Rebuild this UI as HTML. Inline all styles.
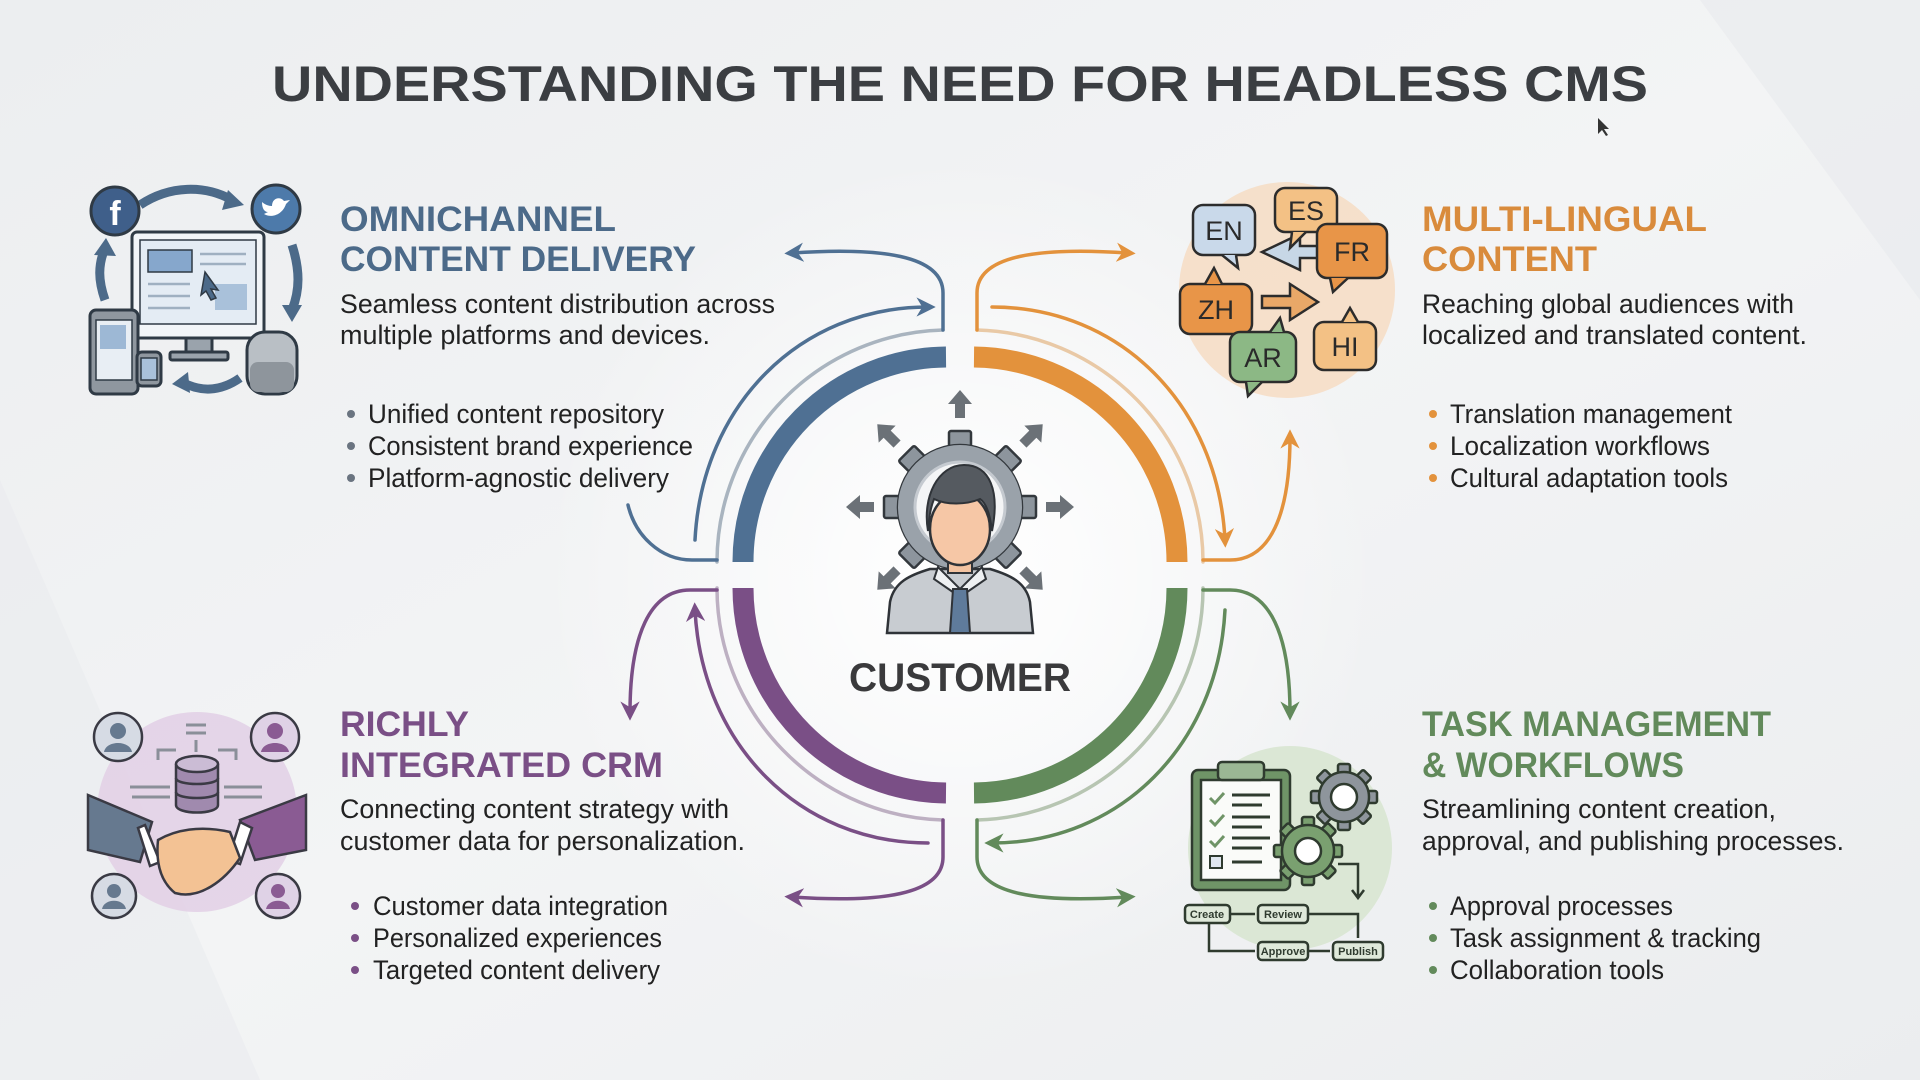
<!DOCTYPE html>
<html><head><meta charset="utf-8"><style>
html,body{margin:0;padding:0;width:1920px;height:1080px;overflow:hidden;background:#eef0f2}
svg{display:block}
text{font-family:"Liberation Sans",sans-serif}
</style></head><body>
<svg width="1920" height="1080" viewBox="0 0 1920 1080" xmlns="http://www.w3.org/2000/svg">
<defs>
<linearGradient id="bg" x1="0" y1="0" x2="1" y2="1"><stop offset="0" stop-color="#eceef0"/><stop offset="0.5" stop-color="#f3f4f5"/><stop offset="1" stop-color="#ebedef"/></linearGradient>
<radialGradient id="glow" cx="0.5" cy="0.5" r="0.5"><stop offset="0" stop-color="#ffffff"/><stop offset="1" stop-color="#ffffff" stop-opacity="0"/></radialGradient>
<marker id="mb" viewBox="0 0 10 10" refX="6" refY="5" markerWidth="5.5" markerHeight="5.5" orient="auto-start-reverse"><path d="M0,0 L10,5 L0,10 L3,5z" fill="#4f7093"/></marker>
<marker id="mo" viewBox="0 0 10 10" refX="6" refY="5" markerWidth="5.5" markerHeight="5.5" orient="auto-start-reverse"><path d="M0,0 L10,5 L0,10 L3,5z" fill="#e3923c"/></marker>
<marker id="mp" viewBox="0 0 10 10" refX="6" refY="5" markerWidth="5.5" markerHeight="5.5" orient="auto-start-reverse"><path d="M0,0 L10,5 L0,10 L3,5z" fill="#7a4f86"/></marker>
<marker id="mg" viewBox="0 0 10 10" refX="6" refY="5" markerWidth="5.5" markerHeight="5.5" orient="auto-start-reverse"><path d="M0,0 L10,5 L0,10 L3,5z" fill="#628a5b"/></marker>
</defs>
<rect width="1920" height="1080" fill="url(#bg)"/>
<polygon points="1700,0 1920,0 1920,300" fill="#e8eaed" opacity="0.6"/>
<polygon points="0,480 260,1080 0,1080" fill="#e9ebee" opacity="0.6"/>
<ellipse cx="960" cy="575" rx="420" ry="420" fill="url(#glow)"/>

<text x="960" y="101" text-anchor="middle" font-size="50" font-weight="bold" fill="#3b3e42" textLength="1376" lengthAdjust="spacingAndGlyphs">UNDERSTANDING THE NEED FOR HEADLESS CMS</text>
<path d="M1598,118 l0,16 l4,-4 l4,6 l2,-1 l-4,-6 l5,0z" fill="#333"/>

<g transform="translate(960,575)" fill="none" stroke-linecap="round">
 <g>
  <path d="M -217 -13 A 205 205 0 0 1 -14 -218" stroke="#4f7093" stroke-width="21" stroke-linecap="butt"/>
  <path d="M -243 -13 A 232 232 0 0 1 -17 -245" stroke="#a9b4bf" stroke-width="3.5"/>
  <path d="M -17 -245 L -17 -282 C -17 -320 -80 -328 -168 -322" stroke="#4f7093" stroke-width="3.5" marker-end="url(#mb)"/>
  <path d="M -265 -35 C -258 -170 -160 -268 -32 -268" stroke="#4f7093" stroke-width="3.5" marker-end="url(#mb)"/>
  <path d="M -243 -15 L -268 -15 C -300 -15 -325 -40 -332 -70" stroke="#4f7093" stroke-width="3.5"/>
 </g>
 <g transform="scale(-1,1)">
  <path d="M -217 -13 A 205 205 0 0 1 -14 -218" stroke="#e3923c" stroke-width="21" stroke-linecap="butt"/>
  <path d="M -243 -13 A 232 232 0 0 1 -17 -245" stroke="#e9c9a6" stroke-width="3.5"/>
  <path d="M -17 -245 L -17 -282 C -17 -320 -80 -328 -168 -322" stroke="#e3923c" stroke-width="3.5" marker-end="url(#mo)"/>
  <path d="M -265 -35 C -258 -170 -160 -268 -32 -268" stroke="#e3923c" stroke-width="3.5" marker-start="url(#mo)"/>
  <path d="M -243 -15 L -270 -15 C -310 -15 -330 -60 -330 -138" stroke="#e3923c" stroke-width="3.5" marker-end="url(#mo)"/>
 </g>
 <g transform="scale(1,-1)">
  <path d="M -217 -13 A 205 205 0 0 1 -14 -218" stroke="#7a4f86" stroke-width="21" stroke-linecap="butt"/>
  <path d="M -243 -13 A 232 232 0 0 1 -17 -245" stroke="#bdb0c2" stroke-width="3.5"/>
  <path d="M -17 -245 L -17 -282 C -17 -320 -80 -328 -168 -322" stroke="#7a4f86" stroke-width="3.5" marker-end="url(#mp)"/>
  <path d="M -265 -35 C -258 -170 -160 -268 -32 -268" stroke="#7a4f86" stroke-width="3.5" marker-start="url(#mp)"/>
  <path d="M -243 -15 L -270 -15 C -310 -15 -330 -60 -330 -138" stroke="#7a4f86" stroke-width="3.5" marker-end="url(#mp)"/>
 </g>
 <g transform="scale(-1,-1)">
  <path d="M -217 -13 A 205 205 0 0 1 -14 -218" stroke="#628a5b" stroke-width="21" stroke-linecap="butt"/>
  <path d="M -243 -13 A 232 232 0 0 1 -17 -245" stroke="#b7c5b2" stroke-width="3.5"/>
  <path d="M -17 -245 L -17 -282 C -17 -320 -80 -328 -168 -322" stroke="#628a5b" stroke-width="3.5" marker-end="url(#mg)"/>
  <path d="M -265 -35 C -258 -170 -160 -268 -32 -268" stroke="#628a5b" stroke-width="3.5" marker-end="url(#mg)"/>
  <path d="M -243 -15 L -270 -15 C -310 -15 -330 -60 -330 -138" stroke="#628a5b" stroke-width="3.5" marker-end="url(#mg)"/>
 </g>
</g>

<g transform="translate(960,507)">
 <g fill="#6b7177">
  <g transform="rotate(0) translate(0,-103)"><path d="M -5 14 L -5 0 L -12 0 L 0 -14 L 12 0 L 5 0 L 5 14 z"/></g>
  <g transform="rotate(45) translate(0,-103)"><path d="M -5 14 L -5 0 L -12 0 L 0 -14 L 12 0 L 5 0 L 5 14 z"/></g>
  <g transform="rotate(90) translate(0,-100)"><path d="M -5 14 L -5 0 L -12 0 L 0 -14 L 12 0 L 5 0 L 5 14 z"/></g>
  <g transform="rotate(135) translate(0,-103)"><path d="M -5 14 L -5 0 L -12 0 L 0 -14 L 12 0 L 5 0 L 5 14 z"/></g>
  <g transform="rotate(225) translate(0,-103)"><path d="M -5 14 L -5 0 L -12 0 L 0 -14 L 12 0 L 5 0 L 5 14 z"/></g>
  <g transform="rotate(270) translate(0,-100)"><path d="M -5 14 L -5 0 L -12 0 L 0 -14 L 12 0 L 5 0 L 5 14 z"/></g>
  <g transform="rotate(315) translate(0,-103)"><path d="M -5 14 L -5 0 L -12 0 L 0 -14 L 12 0 L 5 0 L 5 14 z"/></g>
 </g>
 <g fill="#8d959d" stroke="#33383d" stroke-width="2.5">
   <rect x="-11" y="-76" width="22" height="20" rx="2"/>
   <rect x="-11" y="-76" width="22" height="20" rx="2" transform="rotate(45)"/>
   <rect x="-11" y="-76" width="22" height="20" rx="2" transform="rotate(90)"/>
   <rect x="-11" y="-76" width="22" height="20" rx="2" transform="rotate(135)"/>
   <rect x="-11" y="-76" width="22" height="20" rx="2" transform="rotate(180)"/>
   <rect x="-11" y="-76" width="22" height="20" rx="2" transform="rotate(225)"/>
   <rect x="-11" y="-76" width="22" height="20" rx="2" transform="rotate(270)"/>
   <rect x="-11" y="-76" width="22" height="20" rx="2" transform="rotate(315)"/>
  <circle r="62"/>
 </g>
 <circle r="62" fill="#9aa2aa"/>
 <circle r="45" fill="#f4f5f6" stroke="#c5cad0" stroke-width="3"/>
 <path d="M -73 126 L -70 95 C -66 75 -50 68 -30 62 L 30 62 C 50 68 66 75 70 95 L 73 126 Z" fill="#c8ccd1" stroke="#2f3338" stroke-width="2.5"/>
 <path d="M -22 60 L 0 82 L 22 60 L 26 72 L 0 90 L -26 72 Z" fill="#eef0f2" stroke="#2f3338" stroke-width="2"/>
 <path d="M -7 82 L 7 82 L 10 126 L -10 126 Z" fill="#5f7b9b" stroke="#2f3338" stroke-width="2"/>
 <rect x="-12" y="48" width="24" height="18" fill="#f3c3a1" stroke="#2f3338" stroke-width="2"/>
 <ellipse cx="0" cy="22" rx="30" ry="36" fill="#f6c7a6" stroke="#2f3338" stroke-width="2.5"/>
 <path d="M -32 24 C -38 -10 -22 -42 4 -42 C 30 -42 40 -16 32 24 C 30 6 26 -4 20 -8 C 6 -2 -14 -2 -26 -8 C -30 2 -31 12 -32 24 Z" fill="#555a60" stroke="#2f3338" stroke-width="2"/>
</g>
<text x="960" y="691" text-anchor="middle" font-size="40" font-weight="bold" fill="#3a3a3c" textLength="222" lengthAdjust="spacingAndGlyphs">CUSTOMER</text>

<g fill="#4c6a89" font-weight="bold" font-size="35">
 <text x="340" y="231" textLength="276" lengthAdjust="spacingAndGlyphs">OMNICHANNEL</text>
 <text x="340" y="271" textLength="356" lengthAdjust="spacingAndGlyphs">CONTENT DELIVERY</text>
</g>
<g fill="#222" font-size="27">
 <text x="340" y="313" textLength="435" lengthAdjust="spacingAndGlyphs">Seamless content distribution across</text>
 <text x="340" y="344" textLength="370" lengthAdjust="spacingAndGlyphs">multiple platforms and devices.</text>
 <text x="368" y="423" textLength="296" lengthAdjust="spacingAndGlyphs">Unified content repository</text>
 <text x="368" y="455" textLength="325" lengthAdjust="spacingAndGlyphs">Consistent brand experience</text>
 <text x="368" y="487" textLength="301" lengthAdjust="spacingAndGlyphs">Platform-agnostic delivery</text>
</g>
<g fill="#6a7480"><circle cx="351" cy="414" r="4"/><circle cx="351" cy="446" r="4"/><circle cx="351" cy="478" r="4"/></g>

<g fill="#d98b3c" font-weight="bold" font-size="35">
 <text x="1422" y="231" textLength="285" lengthAdjust="spacingAndGlyphs">MULTI-LINGUAL</text>
 <text x="1422" y="271" textLength="175" lengthAdjust="spacingAndGlyphs">CONTENT</text>
</g>
<g fill="#222" font-size="27">
 <text x="1422" y="313" textLength="372" lengthAdjust="spacingAndGlyphs">Reaching global audiences with</text>
 <text x="1422" y="344" textLength="385" lengthAdjust="spacingAndGlyphs">localized and translated content.</text>
 <text x="1450" y="423" textLength="282" lengthAdjust="spacingAndGlyphs">Translation management</text>
 <text x="1450" y="455" textLength="260" lengthAdjust="spacingAndGlyphs">Localization workflows</text>
 <text x="1450" y="487" textLength="278" lengthAdjust="spacingAndGlyphs">Cultural adaptation tools</text>
</g>
<g fill="#e3923c"><circle cx="1433" cy="414" r="4"/><circle cx="1433" cy="446" r="4"/><circle cx="1433" cy="478" r="4"/></g>

<g fill="#7a4f86" font-weight="bold" font-size="35">
 <text x="340" y="736" textLength="129" lengthAdjust="spacingAndGlyphs">RICHLY</text>
 <text x="340" y="777" textLength="323" lengthAdjust="spacingAndGlyphs">INTEGRATED CRM</text>
</g>
<g fill="#222" font-size="27">
 <text x="340" y="818" textLength="389" lengthAdjust="spacingAndGlyphs">Connecting content strategy with</text>
 <text x="340" y="850" textLength="405" lengthAdjust="spacingAndGlyphs">customer data for personalization.</text>
 <text x="373" y="915" textLength="295" lengthAdjust="spacingAndGlyphs">Customer data integration</text>
 <text x="373" y="947" textLength="289" lengthAdjust="spacingAndGlyphs">Personalized experiences</text>
 <text x="373" y="979" textLength="287" lengthAdjust="spacingAndGlyphs">Targeted content delivery</text>
</g>
<g fill="#7a4f86"><circle cx="355" cy="906" r="4"/><circle cx="355" cy="938" r="4"/><circle cx="355" cy="970" r="4"/></g>

<g fill="#628a5b" font-weight="bold" font-size="35">
 <text x="1422" y="736" textLength="349" lengthAdjust="spacingAndGlyphs">TASK MANAGEMENT</text>
 <text x="1422" y="777" textLength="262" lengthAdjust="spacingAndGlyphs">&amp; WORKFLOWS</text>
</g>
<g fill="#222" font-size="27">
 <text x="1422" y="818" textLength="354" lengthAdjust="spacingAndGlyphs">Streamlining content creation,</text>
 <text x="1422" y="850" textLength="422" lengthAdjust="spacingAndGlyphs">approval, and publishing processes.</text>
 <text x="1450" y="915" textLength="223" lengthAdjust="spacingAndGlyphs">Approval processes</text>
 <text x="1450" y="947" textLength="311" lengthAdjust="spacingAndGlyphs">Task assignment &amp; tracking</text>
 <text x="1450" y="979" textLength="214" lengthAdjust="spacingAndGlyphs">Collaboration tools</text>
</g>
<g fill="#628a5b"><circle cx="1433" cy="906" r="4"/><circle cx="1433" cy="938" r="4"/><circle cx="1433" cy="970" r="4"/></g>

<g stroke="#2f3a45" stroke-width="3">
 <path d="M140 205 C170 185 205 185 232 200" fill="none" stroke="#4c6a89" stroke-width="9"/>
 <path d="M228 190 L244 205 L222 210 Z" fill="#4c6a89" stroke="none"/>
 <path d="M292 245 C300 270 300 290 292 310" fill="none" stroke="#4c6a89" stroke-width="9"/>
 <path d="M282 305 L292 322 L302 305 Z" fill="#4c6a89" stroke="none"/>
 <path d="M105 300 C98 280 98 265 105 248" fill="none" stroke="#4c6a89" stroke-width="9"/>
 <path d="M94 255 L106 238 L116 256 Z" fill="#4c6a89" stroke="none"/>
 <path d="M240 378 C220 392 200 392 182 382" fill="none" stroke="#4c6a89" stroke-width="9"/>
 <path d="M188 372 L172 384 L190 393 Z" fill="#4c6a89" stroke="none"/>
 <circle cx="115" cy="211" r="24" fill="#3f5f8a"/>
 <text x="115" y="225" text-anchor="middle" font-size="34" font-weight="bold" fill="#fff" stroke="none">f</text>
 <circle cx="276" cy="209" r="24" fill="#4d7aaa"/>
 <path d="M264 214 C270 218 282 216 286 204 L290 200 L284 201 C280 196 272 198 272 206 C266 206 262 202 262 202 C262 208 264 212 268 212" fill="#fff" stroke="none"/>
 <rect x="132" y="232" width="132" height="106" rx="5" fill="#f2f5f8"/>
 <rect x="140" y="240" width="116" height="84" fill="#e4ecf4" stroke-width="1.5"/>
 <rect x="148" y="250" width="44" height="22" fill="#86a7cc" stroke-width="1.5"/>
 <rect x="215" y="284" width="32" height="26" fill="#a9c1da" stroke="none"/>
 <g stroke="#9fb0c1" stroke-width="2.5"><line x1="200" y1="254" x2="246" y2="254"/><line x1="200" y1="264" x2="246" y2="264"/><line x1="148" y1="284" x2="190" y2="284"/><line x1="148" y1="296" x2="190" y2="296"/><line x1="148" y1="308" x2="190" y2="308"/></g>
 <path d="M205 272 L218 290 L211 289 L216 298 L211 300 L206 291 L201 295 Z" fill="#4c6a89" stroke-width="1.5"/>
 <rect x="186" y="338" width="26" height="16" fill="#9aa3ac"/>
 <rect x="170" y="352" width="58" height="8" rx="2" fill="#9aa3ac"/>
 <rect x="90" y="310" width="48" height="84" rx="6" fill="#8f979f"/>
 <rect x="96" y="320" width="36" height="60" fill="#e8eef4" stroke-width="1.5"/>
 <rect x="100" y="325" width="26" height="24" fill="#9db8d5" stroke="none"/>
 <rect x="137" y="352" width="24" height="34" rx="5" fill="#8f979f"/>
 <rect x="141" y="358" width="16" height="22" fill="#a9c1da" stroke-width="1.5"/>
 <rect x="247" y="332" width="50" height="62" rx="18" fill="#b9bfc5"/>
 <rect x="250" y="362" width="44" height="30" rx="8" fill="#8e959c" stroke="none"/>
</g>

<circle cx="1287" cy="290" r="108" fill="#f6dcc3" opacity="0.85"/>
<g stroke="#2c2c2c" stroke-width="2.5" font-size="27" text-anchor="middle">
 <path d="M1319 258 L1300 258 L1300 270 L1262 252 L1300 234 L1300 246 L1319 246 Z" fill="#c7d7e6"/>
 <path d="M1262 296 L1290 296 L1290 284 L1318 302 L1290 320 L1290 308 L1262 308 Z" fill="#e9a868"/>
 <rect x="1193" y="205" width="62" height="50" rx="10" fill="#c9d9ea"/><path d="M1222 255 L1238 268 L1236 255" fill="#c9d9ea"/>
 <text x="1224" y="240" fill="#2a2a2a" stroke="none">EN</text>
 <rect x="1275" y="188" width="62" height="44" rx="10" fill="#f3c185"/><path d="M1292 232 L1290 248 L1306 232" fill="#f3c185"/>
 <text x="1306" y="220" fill="#2a2a2a" stroke="none">ES</text>
 <rect x="1317" y="224" width="70" height="54" rx="10" fill="#e89548"/><path d="M1330 278 L1333 292 L1348 278" fill="#e89548"/>
 <text x="1352" y="261" fill="#2a2a2a" stroke="none">FR</text>
 <rect x="1180" y="284" width="72" height="50" rx="10" fill="#e89548"/><path d="M1205 284 L1214 268 L1222 284" fill="#e89548"/>
 <text x="1216" y="319" fill="#2a2a2a" stroke="none">ZH</text>
 <rect x="1314" y="322" width="62" height="48" rx="10" fill="#f3c185"/><path d="M1342 322 L1350 308 L1358 322" fill="#f3c185"/>
 <text x="1345" y="356" fill="#2a2a2a" stroke="none">HI</text>
 <rect x="1230" y="332" width="66" height="50" rx="10" fill="#8cb885"/><path d="M1246 382 L1248 396 L1262 382" fill="#8cb885"/>
 <path d="M1270 332 L1280 318 L1284 332" fill="#8cb885"/>
 <text x="1263" y="367" fill="#2a2a2a" stroke="none">AR</text>
</g>

<circle cx="197" cy="812" r="100" fill="#e2cfe5" opacity="0.85"/>
<g stroke="#3a3a44" stroke-width="2.5">
 <g fill="none" stroke="#8a8f99" stroke-width="3">
  <path d="M176 750 L158 750 L158 760"/><path d="M218 750 L236 750 L236 760"/>
  <line x1="130" y1="787" x2="170" y2="787"/><line x1="224" y1="787" x2="262" y2="787"/>
  <line x1="132" y1="797" x2="170" y2="797"/><line x1="224" y1="797" x2="262" y2="797"/>
  <line x1="186" y1="725" x2="206" y2="725"/><line x1="186" y1="733" x2="206" y2="733"/><line x1="196" y1="740" x2="196" y2="752"/>
 </g>
 <path d="M176 764 L176 805 C176 815 218 815 218 805 L218 764" fill="#a08aae"/>
 <ellipse cx="197" cy="764" rx="21" ry="8" fill="#cbbcd5"/>
 <path d="M176 778 C176 786 218 786 218 778 M176 792 C176 800 218 800 218 792" fill="none"/>
 <path d="M88 795 L152 822 L140 862 L88 850 Z" fill="#66798f"/>
 <path d="M306 795 L240 820 L255 860 L306 850 Z" fill="#8a5b93"/>
 <path d="M145 825 L160 862 L150 866 L138 828 Z" fill="#fff"/>
 <path d="M240 822 L228 860 L240 864 L252 828 Z" fill="#fff"/>
 <path d="M158 840 C175 830 200 825 230 832 L240 858 C225 880 200 900 175 893 C165 885 155 870 158 840 Z" fill="#f3c294"/>
 <circle cx="118" cy="737" r="24" fill="#d6dbe4"/><circle cx="118" cy="731" r="8" fill="#66798f" stroke="none"/><path d="M104 752 C106 740 130 740 132 752" fill="#66798f" stroke="none"/>
 <circle cx="275" cy="737" r="24" fill="#dfd2e6"/><circle cx="275" cy="731" r="8" fill="#8a5b93" stroke="none"/><path d="M261 752 C263 740 287 740 289 752" fill="#8a5b93" stroke="none"/>
 <circle cx="114" cy="896" r="22" fill="#d6dbe4"/><circle cx="114" cy="891" r="7" fill="#66798f" stroke="none"/><path d="M102 909 C104 898 124 898 126 909" fill="#66798f" stroke="none"/>
 <circle cx="278" cy="896" r="22" fill="#dfd2e6"/><circle cx="278" cy="891" r="7" fill="#8a5b93" stroke="none"/><path d="M266 909 C268 898 288 898 290 909" fill="#8a5b93" stroke="none"/>
</g>

<circle cx="1290" cy="848" r="102" fill="#d8e6d2" opacity="0.9"/>
<g stroke="#2f3b2f" stroke-width="2.5">
 <rect x="1192" y="770" width="98" height="120" rx="6" fill="#6f9467"/>
 <rect x="1201" y="780" width="80" height="100" fill="#fafbf9"/>
 <rect x="1218" y="762" width="46" height="18" rx="4" fill="#9bb794"/>
 <g stroke="#2f3b2f" stroke-width="3" fill="none">
  <line x1="1232" y1="795" x2="1270" y2="795"/><line x1="1232" y1="805" x2="1262" y2="805"/>
  <line x1="1232" y1="817" x2="1270" y2="817"/><line x1="1232" y1="827" x2="1262" y2="827"/>
  <line x1="1232" y1="838" x2="1270" y2="838"/><line x1="1232" y1="848" x2="1262" y2="848"/>
  <line x1="1232" y1="862" x2="1262" y2="862"/>
  <path d="M1210 798 L1215 803 L1224 793 M1210 820 L1215 825 L1224 815 M1210 841 L1215 846 L1224 836" stroke="#6f9467"/>
 </g>
 <rect x="1210" y="856" width="12" height="12" fill="#dfe7ef" stroke-width="2"/>
 <g transform="translate(1344,797)" fill="#8e959c"><rect x="-6" y="-33" width="12" height="66" rx="2"/><rect x="-6" y="-33" width="12" height="66" rx="2" transform="rotate(45)"/><rect x="-6" y="-33" width="12" height="66" rx="2" transform="rotate(90)"/><rect x="-6" y="-33" width="12" height="66" rx="2" transform="rotate(135)"/><circle r="25"/><circle r="13" fill="#fff"/></g>
 <g transform="translate(1308,851)" fill="#7aa070"><rect x="-6" y="-34" width="12" height="68" rx="2"/><rect x="-6" y="-34" width="12" height="68" rx="2" transform="rotate(45)"/><rect x="-6" y="-34" width="12" height="68" rx="2" transform="rotate(90)"/><rect x="-6" y="-34" width="12" height="68" rx="2" transform="rotate(135)"/><circle r="26"/><circle r="13" fill="#fff"/></g>
 <path d="M1338 864 L1358 864 L1358 896 M1352 890 L1358 898 L1364 890" fill="none"/>
 <g fill="#dfe9da" font-size="11" font-weight="bold" text-anchor="middle">
  <rect x="1185" y="905" width="45" height="18" rx="4"/><text x="1207" y="918" fill="#2f3b2f" stroke="none">Create</text>
  <rect x="1258" y="905" width="50" height="18" rx="4"/><text x="1283" y="918" fill="#2f3b2f" stroke="none">Review</text>
  <rect x="1258" y="942" width="50" height="18" rx="4"/><text x="1283" y="955" fill="#2f3b2f" stroke="none">Approve</text>
  <rect x="1333" y="942" width="50" height="18" rx="4"/><text x="1358" y="955" fill="#2f3b2f" stroke="none">Publish</text>
 </g>
 <path d="M1231 914 L1255 914 M1209 924 L1209 951 L1255 951 M1309 951 L1330 951 M1309 914 L1358 914 L1358 938" fill="none"/>
</g>
</svg>
</body></html>
